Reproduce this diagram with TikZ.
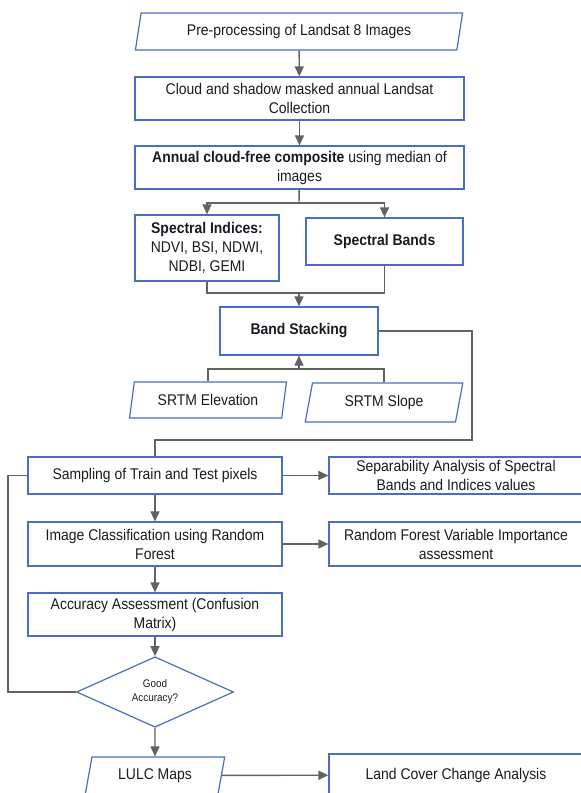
\documentclass[tikz,border=0pt]{standalone}
\usepackage{fontspec}
\setmainfont{Liberation Sans}[FakeStretch=0.9]
\usetikzlibrary{shapes.geometric, arrows.meta}
\definecolor{boxBlue}{RGB}{74, 108, 196}
\definecolor{lineGray}{RGB}{98, 98, 98}
\definecolor{textDark}{RGB}{26, 26, 34}

\tikzset{
  box/.style={draw=boxBlue, line width=1.2pt, rectangle, align=center, inner sep=1pt,
    text=textDark, font=\fontsize{15.5}{19}\selectfont},
  iobox/.style={box, trapezium, trapezium left angle=76, trapezium right angle=104,
    trapezium stretches=true},
  check/.style={box, diamond, inner sep=0pt, font=\fontsize{11}{14}\selectfont},
  link/.style={draw=lineGray, line width=1.4pt},
  >={Triangle[length=10pt, width=9pt]}
}

\begin{document}
\begin{tikzpicture}[x=1pt, y=-1pt]
    \useasboundingbox (0,0) rectangle (581,793);
    \clip (0,0) rectangle (581,793);
    % preparation of the composite
    \node[iobox, minimum width=328, minimum height=37] (pre) at (299,31.5) {Pre-processing of Landsat 8 Images};
    \node[box, minimum width=329, minimum height=43] (cloud) at (299.5,98.5) {Cloud and shadow masked annual Landsat\\Collection};
    \node[box, minimum width=329, minimum height=43] (annual) at (299.5,167.5) {\textbf{Annual cloud-free composite} using median of\\images};
    \node[box, minimum width=144, minimum height=66] (indices) at (207,248) {\textbf{Spectral Indices:}\\NDVI, BSI, NDWI,\\NDBI, GEMI};
    \node[box, minimum width=157, minimum height=47] (bands) at (384.5,241.5) {\textbf{Spectral Bands}};
    \node[box, minimum width=158, minimum height=48] (stack) at (299,331) {\textbf{Band Stacking}};
    \node[iobox, minimum width=157, minimum height=36] (elev) at (208,400) {SRTM Elevation};
    \node[iobox, minimum width=158, minimum height=39] (slope) at (384,402.5) {SRTM Slope};
    % classification
    \node[box, minimum width=254, minimum height=37] (sampling) at (155,475.5) {Sampling of Train and Test pixels};
    \node[box, minimum width=254, minimum height=37] (separ) at (456,475.5) {Separability Analysis of Spectral\\Bands and Indices values};
    \node[box, minimum width=254, minimum height=44] (classif) at (155,544) {Image Classification using Random\\Forest};
    \node[box, minimum width=254, minimum height=44] (rfvi) at (456,544) {Random Forest Variable Importance\\assessment};
    \node[box, minimum width=254, minimum height=43] (accuracy) at (155,614.5) {Accuracy Assessment (Confusion\\Matrix)};
    \node[check, minimum width=157, minimum height=42] (good) at (155,692) {Good\\Accuracy?};
    \node[iobox, minimum width=140, minimum height=37] (lulc) at (155,775.5) {LULC Maps};
    \node[box, minimum width=254, minimum height=42] (change) at (456,775) {Land Cover Change Analysis};

    \coordinate (split) at (299,203);
    \coordinate (join) at (299,293);
    \coordinate (srtmjoin) at (299,369);
    \coordinate (loopR) at (472,440);
    \coordinate (loopL) at (8,692);

    \draw[link, ->] (pre) -- (cloud);
    \draw[link, ->] (cloud) -- (annual);
    \draw[link] (annual) -- (split);
    \draw[link, ->] (split) -| (indices);
    \draw[link, ->] (split) -| (bands);
    \draw[link] (indices) |- (join);
    \draw[link] (bands) |- (join);
    \draw[link, ->] (join) -- (stack);
    \draw[link] (elev.north) |- (srtmjoin);
    \draw[link] (slope.north) |- (srtmjoin);
    \draw[link, ->] (srtmjoin) -- (stack);
    \draw[link] (stack.east) -| (loopR) -| (sampling.north);
    \draw[link, ->] (sampling) -- (separ);
    \draw[link, ->] (sampling) -- (classif);
    \draw[link, ->] (classif) -- (rfvi);
    \draw[link, ->] (classif) -- (accuracy);
    \draw[link, ->] (accuracy) -- (good);
    \draw[link] (good.west) -- (loopL) |- (sampling.west);
    \draw[link, ->] (good) -- (lulc);
    \draw[link, ->] (lulc) -- (change);
  \end{tikzpicture}
\end{document}
